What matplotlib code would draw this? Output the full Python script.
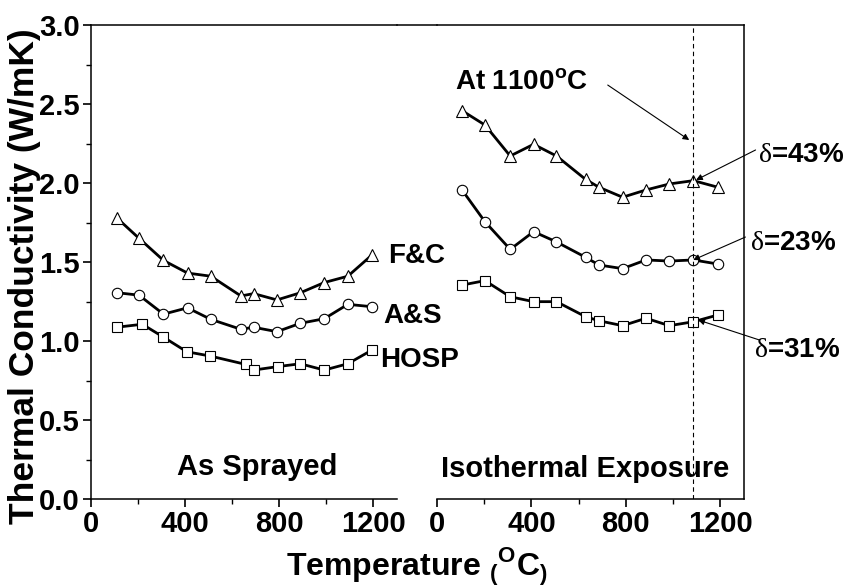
import matplotlib
matplotlib.use('Agg')
import matplotlib.pyplot as plt
from matplotlib.lines import Line2D
from matplotlib.ticker import MultipleLocator

plt.rcParams['font.family'] = 'Liberation Sans'
plt.rcParams['font.weight'] = 'bold'
plt.rcParams['mathtext.fontset'] = 'custom'
plt.rcParams['mathtext.rm'] = 'Liberation Serif:weight=normal:style=normal'
plt.rcParams['mathtext.bf'] = 'Liberation Sans:weight=bold'

# as sprayed coatings
t_sprayed = [109, 204, 308, 410, 509, 637, 691, 790, 889, 991, 1091, 1194]
t_sprayed_hosp = [109, 218, 305, 407, 506, 657, 691, 794, 889, 991, 1091, 1194]
fc_sprayed = [1.78, 1.65, 1.51, 1.43, 1.41, 1.285, 1.30, 1.26, 1.305, 1.37, 1.41, 1.545]
as_sprayed = [1.306, 1.29, 1.17, 1.21, 1.137, 1.074, 1.087, 1.059, 1.112, 1.141, 1.232, 1.217]
hosp_sprayed = [1.087, 1.106, 1.027, 0.932, 0.905, 0.852, 0.816, 0.838, 0.856, 0.816, 0.856, 0.943]

# after isothermal exposure
t_iso = [106, 203, 310, 409, 506, 629, 686, 786, 885, 984, 1086, 1190]
fc_iso = [2.458, 2.367, 2.171, 2.245, 2.171, 2.023, 1.973, 1.91, 1.956, 1.994, 2.015, 1.973]
as_iso = [1.956, 1.755, 1.58, 1.692, 1.627, 1.53, 1.481, 1.458, 1.513, 1.506, 1.513, 1.487]
hosp_iso = [1.354, 1.382, 1.28, 1.249, 1.249, 1.154, 1.128, 1.097, 1.144, 1.097, 1.122, 1.165]

t_exposure = 1086

W, H = 851, 588
fig = plt.figure(figsize=(W / 100, H / 100), dpi=100)
ax1 = fig.add_axes([91 / W, 1 - 499 / H, 306 / W, 474 / H])
ax2 = fig.add_axes([437 / W, 1 - 499 / H, 307 / W, 474 / H])

style = dict(color='k', lw=2, mfc='white', mec='k', mew=0.8)
for ax, xs, xh, fc, a_s, hosp in [(ax1, t_sprayed, t_sprayed_hosp, fc_sprayed, as_sprayed, hosp_sprayed),
                                  (ax2, t_iso, t_iso, fc_iso, as_iso, hosp_iso)]:
    ax.patch.set_visible(False)
    ax.plot(xs, fc, marker='^', ms=9, **style)
    ax.plot(xs, a_s, marker='o', ms=7.5, **style)
    ax.plot(xh, hosp, marker='s', ms=6.5, **style)
    ax.set_xlim(0, 1300)
    ax.set_ylim(0, 3.0)
    ax.xaxis.set_major_locator(MultipleLocator(400))
    ax.xaxis.set_minor_locator(MultipleLocator(200))
    ax.tick_params(which='major', direction='out', length=6, width=1.2, labelsize=21, pad=2)
    ax.tick_params(which='minor', direction='out', length=3.5, width=1.0)
    for s in ax.spines.values():
        s.set_linewidth(1.1)

ax1.spines['right'].set_visible(False)
ax1.yaxis.set_major_locator(MultipleLocator(0.5))
ax1.yaxis.set_minor_locator(MultipleLocator(0.25))
ax1.yaxis.set_major_formatter(lambda v, p: f'{v:.1f}')
ax1.xaxis.set_ticks_position('bottom')
ax1.yaxis.set_ticks_position('left')
ax1.set_zorder(3)

ax2.spines['left'].set_visible(False)
ax2.tick_params(axis='y', which='both', left=False, labelleft=False)
ax2.xaxis.set_ticks_position('bottom')

# top frame line bridging the gap
fig.add_artist(Line2D([397 / W, 437 / W], [1 - 25 / H, 1 - 25 / H],
                      transform=fig.transFigure, color='k', lw=1.1))

ax2.axvline(t_exposure, color='k', lw=0.8, ls=(0, (4, 3)))

# series labels
ax1.text(1264, 1.494, 'F&C', fontsize=20, va='baseline')
ax1.text(1242, 1.114, 'A&S', fontsize=20, va='baseline')
ax1.text(1230, 0.835, 'HOSP', fontsize=20, va='baseline')
ax1.text(706, 0.152, 'As Sprayed', fontsize=21, ha='center', va='baseline')
ax2.text(627, 0.139, 'Isothermal Exposure', fontsize=21, ha='center', va='baseline')

ax2.text(75, 2.589, r'At 1100$^\mathbf{o}$C', fontsize=20, va='baseline')
ax2.text(1358, 2.133, r'$\mathrm{\delta}$=43%', fontsize=20, va='baseline')
ax2.text(1327, 1.576, r'$\mathrm{\delta}$=23%', fontsize=20, va='baseline')
ax2.text(1344, 0.899, r'$\mathrm{\delta}$=31%', fontsize=20, va='baseline')

arrow = dict(arrowstyle='-|>', color='k', lw=0.8, mutation_scale=9, shrinkA=0, shrinkB=0)
ax2.annotate('', xy=(1068, 2.272), xytext=(723, 2.62), arrowprops=arrow, annotation_clip=False)
ax2.annotate('', xy=(1097, 2.019), xytext=(1349, 2.209), arrowprops=arrow, annotation_clip=False)
ax2.annotate('', xy=(1085, 1.513), xytext=(1306, 1.658), arrowprops=arrow, annotation_clip=False)
ax2.annotate('', xy=(1106, 1.133), xytext=(1366, 1.006), arrowprops=arrow, annotation_clip=False)

fig.text(25 / W, 1 - 276 / H, 'Thermal Conductivity (W/mK)', fontsize=25.5,
         rotation=90, ha='center', va='center')
fig.text(417 / W, 1 - 576 / H, r'Temperature $_\mathbf{(}$$^\mathbf{O}$C$_\mathbf{)}$',
         fontsize=23, ha='center', va='baseline')

fig.savefig('out.png', dpi=100)
